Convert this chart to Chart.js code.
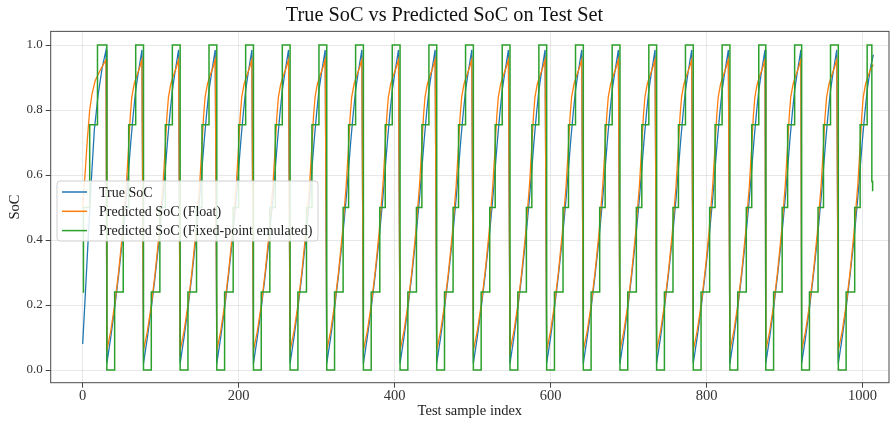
<!DOCTYPE html>
<html>
<head>
<meta charset="utf-8">
<script src="https://cdn.jsdelivr.net/npm/chart.js@4.4.1/dist/chart.umd.min.js"></script>
<style>
  html, body { margin: 0; padding: 0; background: #fff; }
  #wrap { position: relative; width: 890px; height: 421px; }
</style>
</head>
<body>
<div id="wrap"><canvas id="chart"></canvas></div>
<script>
// first sample of each charge cycle (right after the drop to ~0)
const lowStarts = [31, 78, 125, 172, 219, 266, 313, 360, 407, 454, 501, 548, 595, 642, 689, 736, 783, 830, 876, 922, 969];
const lastIndex = 1014;

// the partial cycle at the start of the test set: [sample, SoC]
const firstTrue = [[0, 0.08], [4, 0.26], [7, 0.4], [11, 0.58], [15, 0.74], [20, 0.85], [25, 0.93], [30, 0.985]];
const firstFloat = [[0, 0.5], [3, 0.6], [6, 0.71], [9, 0.8], [12, 0.85], [16, 0.89], [22, 0.92], [30, 0.955]];
const firstFixed = [[0, 0.24], [1, 0.5], [9, 0.755], [19, 1.0]];

// shape of one cycle: [offset from cycle start, SoC]
const cycleTrue = [[0, 0.02], [5, 0.1], [10, 0.19], [15, 0.29], [20, 0.4], [25, 0.53], [28, 0.62], [31, 0.71], [34, 0.79], [37, 0.86], [40, 0.91], [42, 0.94], [45, 0.985]];
const cycleFloat = [[0, 0.06], [5, 0.12], [10, 0.2], [15, 0.3], [20, 0.42], [25, 0.57], [28, 0.69], [30, 0.78], [32, 0.84], [35, 0.88], [39, 0.91], [42, 0.93], [45, 0.955]];
const cycleFixed = [[0, 0], [10, 0.24], [21, 0.5], [28, 0.755], [37, 1.0]];

// last samples of the set
const tailTrue = [[1014, 0.97]];
const tailFloat = [[1014, 0.94]];
const tailFixed = [[1012, 0.58], [1013, 0.55]];

const xTicks = [0, 200, 400, 600, 800, 1000];
const yTicks = [0, 0.2, 0.4, 0.6, 0.8, 1.0];

const seriesFrom = (first, profile, tail) => {
  const pts = first.map(([x, y]) => ({ x, y }));
  lowStarts.forEach((s) => {
    profile.forEach(([off, v]) => {
      if (s + off < lastIndex) pts.push({ x: s + off, y: v });
    });
  });
  tail.forEach(([x, y]) => pts.push({ x, y }));
  return pts;
};

const serif = "'Liberation Serif', 'DejaVu Serif', serif";

const legendItems = [
  { label: "True SoC", color: "#1f77b4" },
  { label: "Predicted SoC (Float)", color: "#ff7f0e" },
  { label: "Predicted SoC (Fixed-point emulated)", color: "#2ca02c" },
];

const framePlugin = {
  id: "frame",
  afterDatasetsDraw(chart) {
    const { ctx, chartArea: a } = chart;
    ctx.save();
    ctx.strokeStyle = "#4a4a4a";
    ctx.lineWidth = 1;
    ctx.strokeRect(a.left, a.top, a.right - a.left, a.bottom - a.top);

    // legend box in the upper-left-middle of the plot
    const x = 57, y = 181, w = 261, h = 60;
    ctx.beginPath();
    ctx.roundRect(x, y, w, h, 3);
    ctx.fillStyle = "rgba(255,255,255,0.85)";
    ctx.fill();
    ctx.strokeStyle = "#cfcfcf";
    ctx.stroke();
    ctx.font = "14px " + serif;
    ctx.textBaseline = "middle";
    legendItems.forEach((it, i) => {
      const ly = 192 + i * 19.3;
      ctx.beginPath();
      ctx.moveTo(62, ly);
      ctx.lineTo(87, ly);
      ctx.strokeStyle = it.color;
      ctx.lineWidth = 1.5;
      ctx.stroke();
      ctx.fillStyle = "#222";
      ctx.fillText(it.label, 99, ly + 1);
    });
    ctx.restore();
  },
};

const common = { pointRadius: 0, borderWidth: 1.3, tension: 0, fill: false };

new Chart(document.getElementById("chart"), {
  type: "line",
  data: {
    datasets: [
      { ...common, label: "True SoC", data: seriesFrom(firstTrue, cycleTrue, tailTrue), borderColor: "#1f77b4", order: 2 },
      { ...common, label: "Predicted SoC (Float)", data: seriesFrom(firstFloat, cycleFloat, tailFloat), borderColor: "#ff7f0e", order: 1 },
      { ...common, label: "Predicted SoC (Fixed-point emulated)", data: seriesFrom(firstFixed, cycleFixed, tailFixed), borderColor: "#2ca02c", borderWidth: 1.5, stepped: true, order: 0 },
    ],
  },
  options: {
    animation: false,
    responsive: true,
    maintainAspectRatio: false,
    layout: { padding: { left: 0, right: 1, top: 0, bottom: 0 } },
    scales: {
      x: {
        type: "linear",
        min: -41,
        max: 1034,
        afterBuildTicks: (s) => { s.ticks = xTicks.map((v) => ({ value: v })); },
        afterFit: (s) => { s.height = 38.3; },
        grid: { color: "rgba(0,0,0,0.09)", tickColor: "#444", tickLength: 5 },
        border: { display: false },
        ticks: { color: "#333", padding: 0, maxRotation: 0, callback: (v) => String(v), font: { family: serif, size: 14.5 } },
        title: { display: true, text: "Test sample index", color: "#222", padding: { top: 1, bottom: 1 }, font: { family: serif, size: 14.5 } },
      },
      y: {
        min: -0.039,
        max: 1.042,
        afterBuildTicks: (s) => { s.ticks = yTicks.map((v) => ({ value: v })); },
        afterFit: (s) => { s.width = 50.7; },
        grid: { color: "rgba(0,0,0,0.09)", tickColor: "#444", tickLength: 5 },
        border: { display: false },
        ticks: { color: "#333", padding: 3, callback: (v) => v.toFixed(1), font: { family: serif, size: 13 } },
        title: { display: true, text: "SoC", color: "#222", padding: { top: 6, bottom: 6 }, font: { family: serif, size: 14.5 } },
      },
    },
    plugins: {
      legend: { display: false },
      tooltip: { enabled: false },
      title: {
        display: true,
        text: "True SoC vs Predicted SoC on Test Set",
        color: "#111",
        padding: { top: 3, bottom: 4 },
        font: { family: serif, size: 20.3, weight: "normal" },
      },
    },
  },
  plugins: [framePlugin],
});
</script>
</body>
</html>
